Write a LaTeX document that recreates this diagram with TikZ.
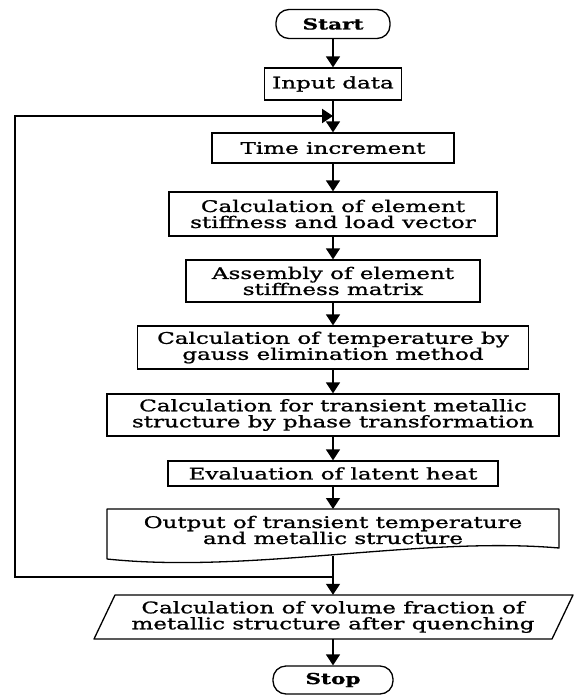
\documentclass[tikz,border=0pt]{standalone}
\usepackage{fontspec}
\setmainfont{DejaVu Serif}[FakeStretch=1.44,FakeBold=1.2]
\usetikzlibrary{arrows.meta}
\begin{document}
\begin{tikzpicture}[x=1pt,y=-1pt,
  every node/.style={font=\fontsize{16}{16}\selectfont},
  box/.style={draw,line width=1.3pt,align=center,inner sep=0pt},
  plain/.style={align=center,inner sep=0pt},
  term/.style={box,rounded corners=13pt,font=\fontsize{15}{16}\selectfont\bfseries},
  flow/.style={line width=1.5pt,-{Triangle[length=11pt,width=14pt]}},
  loopline/.style={line width=1.9pt},
  shapeline/.style={line width=1.3pt,line join=round}]
\useasboundingbox (0,0) rectangle (579,695);
\node[term,minimum width=114pt,minimum height=29pt] (start) at (333,24) {Start};
\node[box,minimum width=137pt,minimum height=32pt] (input) at (333,84) {Input data};
\node[box,minimum width=242pt,minimum height=30pt] (time) at (333,148) {Time increment};
\node[box,minimum width=328pt,minimum height=44pt] (elem) at (333,214) {Calculation of element\\stiffness and load vector};
\node[box,minimum width=294pt,minimum height=42pt] (assem) at (333,281) {Assembly of element\\stiffness matrix};
\node[box,minimum width=391pt,minimum height=43pt] (temp) at (333,347.5) {Calculation of temperature by\\gauss elimination method};
\node[box,minimum width=452pt,minimum height=42pt] (trans) at (333,415) {Calculation for transient metallic\\structure by phase transformation};
\node[box,minimum width=330pt,minimum height=25pt] (latent) at (333,473.5) {Evaluation of latent heat};
% output (document shape)
\draw[shapeline] (107,509) -- (559,509) -- (559,548) .. controls (420,536) and (250,574) .. (107,559) -- cycle;
\node[plain] (out) at (333,530) {Output of transient temperature\\and metallic structure};
\coordinate (outb) at (333,556);
% final (parallelogram)
\node[plain,minimum height=44pt] (final) at (333,617) {Calculation of volume fraction of\\metallic structure after quenching};
\draw[shapeline] (115,595) -- (573,595) -- (552,639) -- (94,639) -- cycle;
\node[term,minimum width=120pt,minimum height=28pt] (stop) at (333,680) {Stop};
% connectors
\draw[flow] (start) -- (input);
\draw[flow] (input) -- (time);
\draw[flow] (time) -- (elem);
\draw[flow] (elem) -- (assem);
\draw[flow] (assem) -- (temp);
\draw[flow] (temp) -- (trans);
\draw[flow] (trans) -- (latent);
\draw[flow] (latent.south) -- (out.north |- 509,509);
\draw[flow] (outb) -- (final.north);
\draw[flow] (final.south) -- (stop);
% loop back
\coordinate (j1) at (333,577);
\coordinate (c1) at (15,577);
\coordinate (c2) at (15,116);
\coordinate (j2) at (333,116);
\draw[loopline,-{Triangle[length=11pt,width=14pt]}] (j1) -- (c1) -- (c2) -- (j2);
\end{tikzpicture}
\end{document}
